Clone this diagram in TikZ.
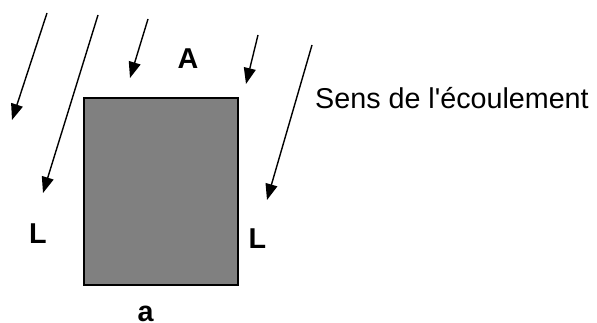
\documentclass[tikz,border=0pt]{standalone}
\usepackage{fontspec}
\setmainfont{Liberation Sans}
\usepackage{tikz}
\usetikzlibrary{arrows.meta}

\begin{document}
\begin{tikzpicture}[x=1pt,y=-1pt,font=\fontsize{28.7}{34}\selectfont]
	\useasboundingbox (0,0) rectangle (597,323);
	\tikzset{flow/.style={line width=1.4pt,-{Triangle[length=16pt,width=12pt]}},
	         dim/.style={font=\fontsize{28.7}{34}\selectfont\bfseries,inner sep=0pt}}
	\filldraw[fill=gray,draw=black,line width=1.5pt] (84,98) rectangle (238,285);
	\foreach \xa/\ya/\xb/\yb in {47/13/12/120, 98/15/43/193, 148/19/130/78, 258/35/246/84, 312/45/267/200}
		\draw[flow] (\xa,\ya) -- (\xb,\yb);
	\node[dim] (A) at (188,58.5) {A};
	\node[dim] (Lg) at (38,234) {L};
	\node[dim] (Ld) at (257.5,238.5) {L};
	\node[dim,anchor=base] (a) at (145.5,321.5) {a};
	\node[inner sep=0pt,anchor=base west] (sens) at (315,109) {Sens de l\textquotesingle écoulement};
\end{tikzpicture}
\end{document}
